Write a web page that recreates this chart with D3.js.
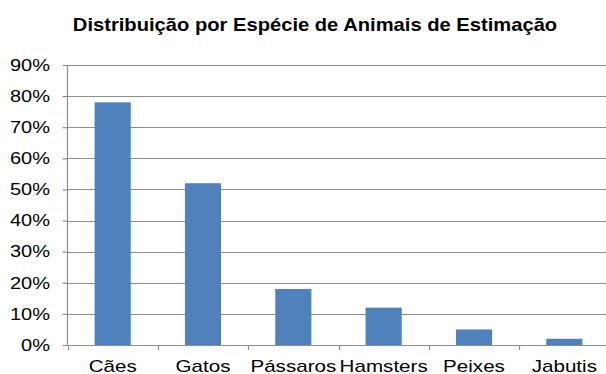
<!DOCTYPE html>
<html>
<head>
<meta charset="utf-8">
<script src="https://cdn.jsdelivr.net/npm/d3@7"></script>
<style>
  html, body { margin: 0; padding: 0; background: #fff; }
  svg { display: block; }
  text { font-family: "Liberation Sans", Arial, sans-serif; fill: #000; }
</style>
</head>
<body>
<svg id="chart" width="606" height="374"></svg>
<script>
const title = "Distribuição por Espécie de Animais de Estimação";
const categories = ["Cães", "Gatos", "Pássaros", "Hamsters", "Peixes", "Jabutis"];
const values = [0.78, 0.52, 0.18, 0.12, 0.05, 0.02];
const yTicks = [0, 0.1, 0.2, 0.3, 0.4, 0.5, 0.6, 0.7, 0.8, 0.9];

const svg = d3.select("#chart");
const mLeft = 67.5, mRight = 609.5, mTop = 65, mBottom = 345;
const sx = 1.25;
const gridColor = "#8e8e8e";

const x = d3.scaleBand().domain(categories).range([mLeft, mRight]).paddingInner(0.6).paddingOuter(0.3);
const y = d3.scaleLinear().domain([0, 0.9]).range([mBottom, mTop]);

// gridlines
svg.append("g").selectAll("line").data(yTicks.filter(d => d > 0)).join("line")
  .attr("x1", mLeft).attr("x2", 606)
  .attr("y1", d => Math.round(y(d)) + 0.5).attr("y2", d => Math.round(y(d)) + 0.5)
  .attr("stroke", gridColor).attr("stroke-width", 1.2);

// bars
svg.append("g").selectAll("rect").data(values).join("rect")
  .attr("x", (d, i) => x(categories[i]))
  .attr("width", x.bandwidth())
  .attr("y", d => y(d))
  .attr("height", d => y(0) - y(d))
  .attr("fill", "#4f81bd");

// y axis ticks
const yAxis = svg.append("g").attr("transform", `translate(${mLeft},0)`)
  .call(d3.axisLeft(y).tickValues(yTicks).tickSize(5).tickFormat(d3.format(".0%")).tickPadding(0));
yAxis.select(".domain").remove();
yAxis.selectAll(".tick line").attr("stroke", gridColor).attr("stroke-width", 1.2);
yAxis.selectAll(".tick text").remove();
svg.append("line").attr("x1", mLeft).attr("x2", mLeft).attr("y1", mTop).attr("y2", mBottom)
  .attr("stroke", gridColor).attr("stroke-width", 1.2);

// y labels (stretched)
svg.append("g").selectAll("text").data(yTicks).join("text")
  .attr("transform", d => `translate(50,${y(d) + 5.8}) scale(${sx},1)`)
  .attr("text-anchor", "end")
  .style("font-size", "16px")
  .text(d3.format(".0%"));

// x axis
svg.append("line").attr("x1", mLeft).attr("x2", 606).attr("y1", mBottom + 0.5).attr("y2", mBottom + 0.5)
  .attr("stroke", gridColor).attr("stroke-width", 1.2);
const bandStep = x.step();
const tickPos = d3.range(categories.length + 1).map(i => mLeft + i * bandStep);
svg.append("g").selectAll("line").data(tickPos).join("line")
  .attr("x1", d => Math.round(d) + 0.5).attr("x2", d => Math.round(d) + 0.5)
  .attr("y1", mBottom).attr("y2", mBottom + 5)
  .attr("stroke", gridColor).attr("stroke-width", 1.2);

svg.append("g").selectAll("text").data(categories).join("text")
  .attr("transform", d => `translate(${x(d) + x.bandwidth() / 2},371.5) scale(${sx * 1.03},1)`)
  .attr("text-anchor", "middle")
  .style("font-size", "16px")
  .text(d => d);

// title
svg.append("text")
  .attr("transform", `translate(315,31) scale(1.12,1)`)
  .attr("text-anchor", "middle")
  .style("font-size", "18px").style("font-weight", "bold")
  .text(title);
</script>
</body>
</html>
